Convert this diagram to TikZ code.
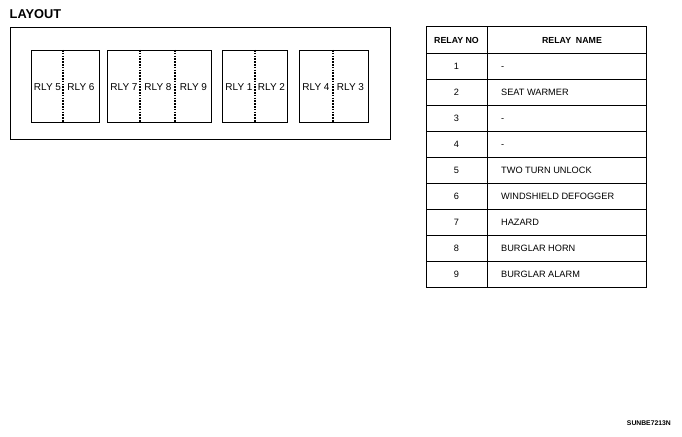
\documentclass[tikz,border=0pt]{standalone}
\usepackage{fontspec}
\setmainfont{Liberation Sans}
\begin{document}
\begin{tikzpicture}[x=1pt,y=-1pt,
  frame/.style={draw=black,line width=0.9pt},
  relaybox/.style={draw=black,line width=0.7pt},
  divider/.style={draw=black,line width=1.2pt,dash pattern=on 1.6pt off 1.2pt},
  rlylabel/.style={font=\fontsize{10}{11}\selectfont,inner sep=0pt,anchor=base},
  cell/.style={font=\fontsize{9.2}{10}\selectfont,inner sep=0pt},
  headcell/.style={font=\fontsize{8.8}{10}\selectfont\bfseries,inner sep=0pt,anchor=base},
  tline/.style={draw=black,line width=0.8pt}]
\useasboundingbox (0,0) rectangle (682,436);
% title
\node[anchor=base west,font=\fontsize{12.8}{14}\selectfont\bfseries,inner sep=0pt] (title) at (9.5,18.5) {LAYOUT};
% outer frame
\draw[frame] (10,27) rectangle (390,139);
% relay boxes
\draw[relaybox] (31,50) rectangle (99,122);
\draw[relaybox] (107,50) rectangle (211,122);
\draw[relaybox] (222,50) rectangle (287,122);
\draw[relaybox] (299,50) rectangle (368,122);
% dividers
\foreach \dx in {63,140,175,255,333} {
  \draw[divider] (\dx,50) -- (\dx,122);
}
% labels
\node[rlylabel] (r5) at (47.5,90.5) {RLY 5};
\node[rlylabel] (r6) at (81,90.5) {RLY 6};
\node[rlylabel] (r7) at (124,90.5) {RLY 7};
\node[rlylabel] (r8) at (158,90.5) {RLY 8};
\node[rlylabel] (r9) at (193.5,90.5) {RLY 9};
\node[rlylabel] (r1) at (239,90.5) {RLY 1};
\node[rlylabel] (r2) at (271.5,90.5) {RLY 2};
\node[rlylabel] (r4) at (316,90.5) {RLY 4};
\node[rlylabel] (r3) at (350.5,90.5) {RLY 3};
% table
\draw[tline,line width=1pt] (426,27) rectangle (646,287);
\draw[tline] (487,27) -- (487,287);
\foreach \i in {1,...,9} {
  \draw[tline] (426,{27+26*\i}) -- (646,{27+26*\i});
}
\node[headcell] (hno) at (456.5,43.3) {RELAY NO};
\node[headcell] (hname) at (572,43.3) {RELAY\ \ NAME};
\foreach \n/\t [count=\i] in {1/-,2/SEAT WARMER,3/-,4/-,5/TWO TURN UNLOCK,6/WINDSHIELD DEFOGGER,7/HAZARD,8/BURGLAR HORN,9/BURGLAR ALARM} {
  \node[cell,anchor=base] (no\i) at (456.5,{43.5+26*\i}) {\n};
  \node[cell,anchor=base west] (nm\i) at (501,{43.5+26*\i}) {\t};
}
% code
\node[anchor=base east,font=\fontsize{6.8}{8}\selectfont\bfseries,inner sep=0pt] (code) at (671,425) {SUNBE7213N};
\end{tikzpicture}
\end{document}
